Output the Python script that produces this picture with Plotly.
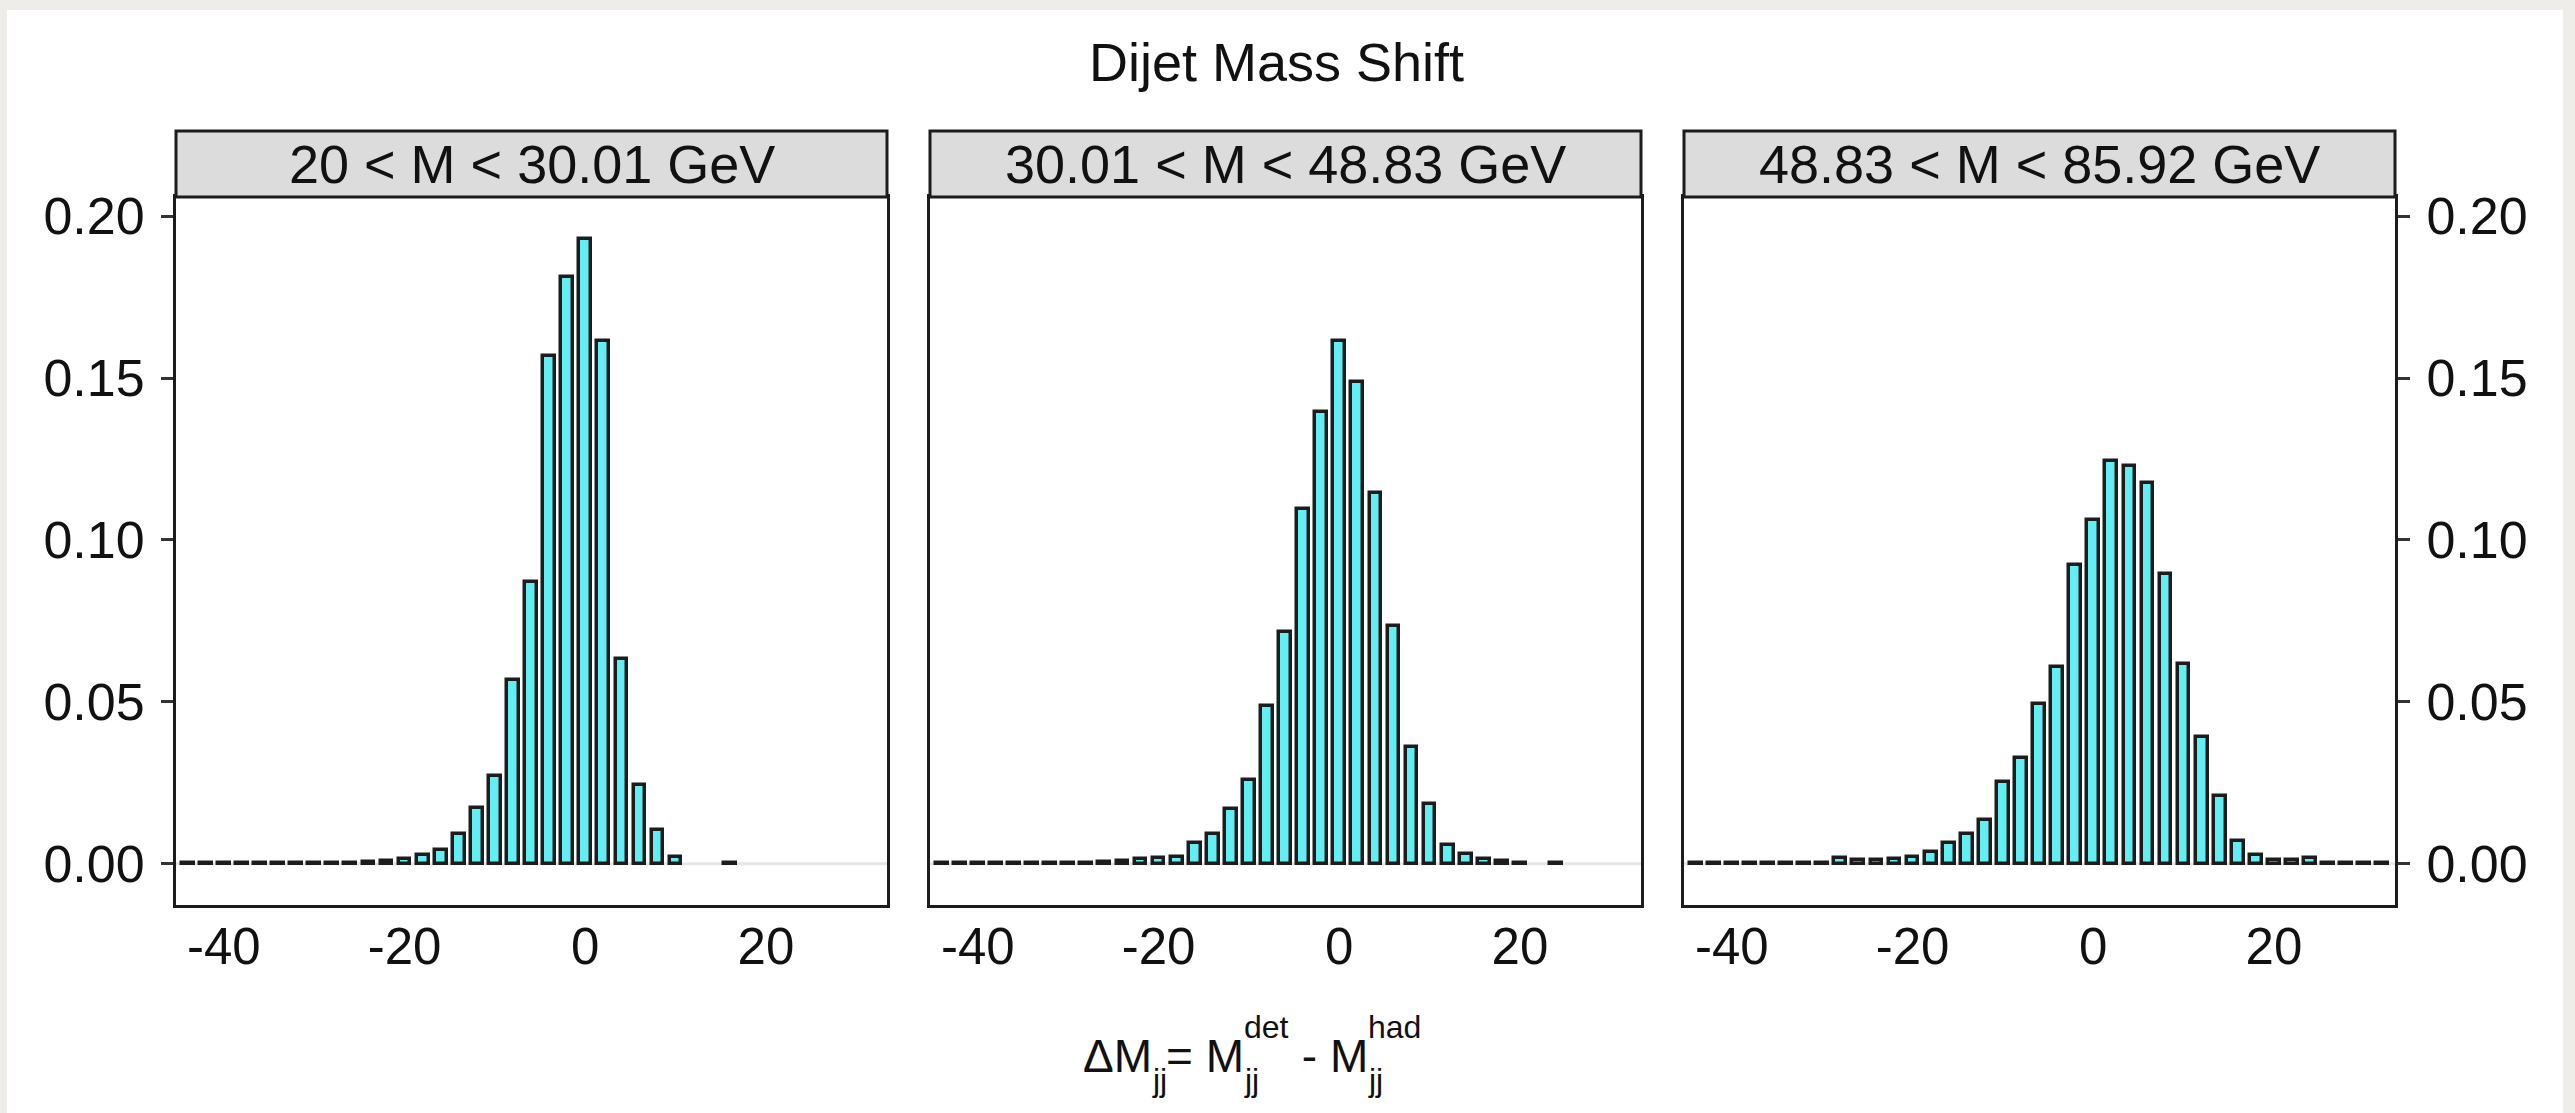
import plotly.graph_objects as go

# Histogram bin centres (GeV) and normalised counts for each dijet-mass slice
panel_titles = ["20 < M < 30.01 GeV", "30.01 < M < 48.83 GeV", "48.83 < M < 85.92 GeV"]

x_low = [-44, -42, -40, -38, -36, -34, -32, -30, -28, -26, -24, -22, -20, -18,
         -16, -14, -12, -10, -8, -6, -4, -2, 0, 2, 4, 6, 8, 10, 16]
y_low = [0.0002, 0.0002, 0.0002, 0.0002, 0.0002, 0.0002, 0.0002, 0.0002, 0.0003,
         0.0004, 0.0006, 0.0009, 0.0014, 0.0027, 0.0044, 0.0092, 0.0172, 0.0270,
         0.0569, 0.0870, 0.1567, 0.1813, 0.1930, 0.1614, 0.0634, 0.0243, 0.0104,
         0.0021, 0.0002]

x_mid = [-44, -42, -40, -38, -36, -34, -32, -30, -28, -26, -24, -22, -20, -18,
         -16, -14, -12, -10, -8, -6, -4, -2, 0, 2, 4, 6, 8, 10, 12, 14, 16, 18,
         20, 24]
y_mid = [0.0002, 0.0002, 0.0002, 0.0002, 0.0002, 0.0002, 0.0003, 0.0003, 0.0004,
         0.0006, 0.0010, 0.0014, 0.0019, 0.0022, 0.0063, 0.0092, 0.0168, 0.0258,
         0.0487, 0.0717, 0.1097, 0.1394, 0.1615, 0.1489, 0.1144, 0.0733, 0.0361,
         0.0185, 0.0058, 0.0030, 0.0014, 0.0008, 0.0003, 0.0002]

x_high = [-44, -42, -40, -38, -36, -34, -32, -30, -28, -26, -24, -22, -20, -18,
          -16, -14, -12, -10, -8, -6, -4, -2, 0, 2, 4, 6, 8, 10, 12, 14, 16, 18,
          20, 22, 24, 26, 28, 30, 32]
y_high = [0.0003, 0.0003, 0.0003, 0.0003, 0.0003, 0.0003, 0.0003, 0.0004, 0.0017,
          0.0011, 0.0013, 0.0016, 0.0022, 0.0036, 0.0063, 0.0093, 0.0136, 0.0253,
          0.0328, 0.0494, 0.0609, 0.0922, 0.1062, 0.1244, 0.1228, 0.1177, 0.0896,
          0.0617, 0.0392, 0.0210, 0.0071, 0.0027, 0.0013, 0.0011, 0.0017, 0.0003,
          0.0003, 0.0003, 0.0003]

x_ticks = [-40, -20, 0, 20]
y_ticks = [0.0, 0.05, 0.10, 0.15, 0.20]
y_ticklabels = ["0.00", "0.05", "0.10", "0.15", "0.20"]

W, H = 2575, 1113
M_L, M_R, M_T, M_B = 176, 180, 131, 208
plot_w = W - M_L - M_R
plot_h = H - M_T - M_B

FONT = "Liberation Sans, Arial, Helvetica, sans-serif"
FILL = "#62EEF2"
EDGE = "#1c1c1c"
TXT = "#111111"

# panel domains in paper coordinates
panel_px = [(176, 887), (930, 1641), (1684, 2395)]
domains = [((a - M_L) / plot_w, (b - M_L) / plot_w) for a, b in panel_px]
strip_bottom = (905 - 197) / plot_h

x_range = [-45.3, 33.4]
y_range = [-0.0127, 0.2059]


def px_x(px):
    return (px - M_L) / plot_w


def px_y(py):
    return (H - M_B - py) / plot_h


fig = go.Figure()
series = [(x_low, y_low), (x_mid, y_mid), (x_high, y_high)]
for i, (xs, ys) in enumerate(series):
    sfx = "" if i == 0 else str(i + 1)
    fig.add_trace(go.Bar(
        x=xs, y=ys, width=1.3,
        marker=dict(color=FILL, line=dict(color=EDGE, width=3.5)),
        xaxis="x" + sfx, yaxis="y" + sfx, showlegend=False,
        hovertemplate="%{x}: %{y:.4f}<extra></extra>",
    ))

layout = dict(
    width=W, height=H,
    margin=dict(l=M_L, r=M_R, t=M_T, b=M_B),
    paper_bgcolor="#efede9",
    plot_bgcolor="white",
    font=dict(family=FONT, color=TXT, size=52),
    bargap=0,
)

shapes = [
    # white figure sheet on the light frame
    dict(type="rect", xref="paper", yref="paper",
         x0=px_x(7), x1=px_x(2563), y0=px_y(H), y1=px_y(10),
         fillcolor="white", line=dict(width=0), layer="below"),
]
annotations = []

for i in range(3):
    sfx = "" if i == 0 else str(i + 1)
    xa = dict(
        domain=list(domains[i]), range=x_range, anchor="y" + sfx,
        tickvals=x_ticks, ticktext=[str(v) for v in x_ticks],
        ticks="", ticklabelstandoff=-5,
        showline=True, linecolor=EDGE, linewidth=3, mirror=True,
        showgrid=False, zeroline=False, tickfont=dict(size=51),
    )
    ya = dict(
        domain=[0, strip_bottom], range=y_range, anchor="x" + sfx,
        tickvals=y_ticks, ticktext=y_ticklabels,
        showline=True, linecolor=EDGE, linewidth=3, mirror=True,
        showgrid=False, zeroline=False, tickfont=dict(size=52),
    )
    if i == 0:
        ya.update(ticks="outside", ticklen=12, tickwidth=3, tickcolor="#333333",
                  side="left", ticklabelstandoff=6)
    elif i == 2:
        ya.update(ticks="outside", ticklen=12, tickwidth=3, tickcolor="#333333",
                  side="right", ticklabelstandoff=6)
    else:
        ya.update(ticks="", showticklabels=False)
    layout["xaxis" + sfx] = xa
    layout["yaxis" + sfx] = ya

    # faint reference line at zero
    shapes.append(dict(type="line", xref="x" + sfx + " domain", yref="y" + sfx,
                       x0=0, x1=1, y0=0, y1=0,
                       line=dict(color="#e6e6e6", width=3), layer="below"))
    # facet strip
    shapes.append(dict(type="rect", xref="paper", yref="paper",
                       x0=domains[i][0], x1=domains[i][1], y0=strip_bottom, y1=1,
                       fillcolor="#dcdcdc", line=dict(color=EDGE, width=3)))
    annotations.append(dict(text=panel_titles[i], xref="paper", yref="paper",
                            x=(domains[i][0] + domains[i][1]) / 2,
                            y=(strip_bottom + 1) / 2, xanchor="center",
                            yanchor="middle", showarrow=False,
                            font=dict(size=54, color=TXT)))

annotations.append(dict(text="Dijet Mass Shift", xref="paper", yref="paper",
                        x=px_x(1276), y=px_y(62), xanchor="center",
                        yanchor="middle", showarrow=False,
                        font=dict(size=54, color=TXT)))

# x-axis title: ΔM_jj = M_jj^det - M_jj^had with stacked sub/superscripts
MAIN, SMALL = 46, 32
ADV = {"Δ": 0.668, "M": 0.833, "=": 0.584, " ": 0.278, "-": 0.333,
       "j": 0.222, "d": 0.556, "e": 0.556, "t": 0.278, "h": 0.556, "a": 0.556}


def text_w(s, size):
    return sum(ADV[c] for c in s) * size


pieces = [("ΔM", None, "jj"), ("= M", "det", "jj"), (" - M", "had", "jj")]
total = 0.0
for base, sup, sub in pieces:
    total += text_w(base, MAIN)
    total += max(text_w(sup or "", SMALL), text_w(sub, SMALL))
cursor = 1250 - total / 2
y_main, y_sup, y_sub = 1056, 1027, 1080
for base, sup, sub in pieces:
    annotations.append(dict(text=base, xref="paper", yref="paper", x=px_x(cursor),
                            y=px_y(y_main), xanchor="left", yanchor="middle",
                            showarrow=False, font=dict(size=MAIN, color=TXT)))
    cursor += text_w(base, MAIN)
    annotations.append(dict(text=sub, xref="paper", yref="paper", x=px_x(cursor),
                            y=px_y(y_sub), xanchor="left", yanchor="middle",
                            showarrow=False, font=dict(size=SMALL, color=TXT)))
    if sup:
        annotations.append(dict(text=sup, xref="paper", yref="paper", x=px_x(cursor),
                                y=px_y(y_sup), xanchor="left", yanchor="middle",
                                showarrow=False, font=dict(size=SMALL, color=TXT)))
    cursor += max(text_w(sup or "", SMALL), text_w(sub, SMALL))

layout["shapes"] = shapes
layout["annotations"] = annotations
fig.update_layout(**layout)

fig.write_html("out.html")
